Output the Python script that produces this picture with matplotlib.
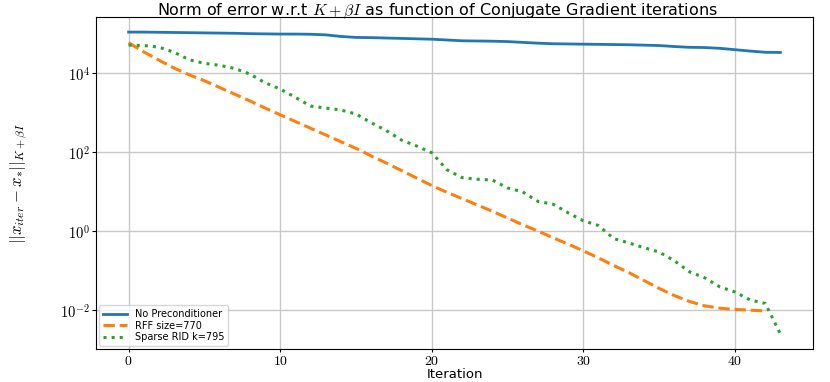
import numpy as np
import matplotlib
matplotlib.use('Agg')
import matplotlib.pyplot as plt
from matplotlib.ticker import FuncFormatter, FixedLocator, NullLocator

plt.rcParams['mathtext.fontset'] = 'cm'
plt.rcParams['font.family'] = 'DejaVu Sans'

# log10 of the error norm per CG iteration
no_precond_log = [5.03, 5.03, 5.025, 5.02, 5.015, 5.01, 5.005, 5.0, 4.99, 4.985,
                  4.98, 4.98, 4.975, 4.96, 4.92, 4.895, 4.89, 4.88, 4.87, 4.86,
                  4.85, 4.83, 4.81, 4.805, 4.80, 4.79, 4.77, 4.75, 4.735, 4.73,
                  4.725, 4.72, 4.715, 4.71, 4.70, 4.69, 4.665, 4.645, 4.64, 4.62,
                  4.585, 4.55, 4.52, 4.515]
rff_log = [4.76, 4.53, 4.32, 4.12, 3.95, 3.80, 3.63, 3.46, 3.29, 3.11,
           2.94, 2.77, 2.60, 2.43, 2.26, 2.09, 1.90, 1.72, 1.53, 1.34,
           1.15, 0.98, 0.82, 0.66, 0.50, 0.33, 0.16, 0.0, -0.17, -0.33,
           -0.50, -0.68, -0.87, -1.05, -1.25, -1.45, -1.63, -1.78, -1.89, -1.95,
           -1.98, -2.0, -2.02]
rid_log = [4.70, 4.69, 4.65, 4.52, 4.33, 4.24, 4.19, 4.11, 3.97, 3.75,
           3.59, 3.38, 3.16, 3.11, 3.06, 2.96, 2.74, 2.54, 2.30, 2.15,
           1.98, 1.55, 1.35, 1.31, 1.29, 1.09, 0.99, 0.75, 0.68, 0.46,
           0.26, 0.14, -0.19, -0.30, -0.42, -0.53, -0.75, -1.03, -1.18, -1.41,
           -1.54, -1.74, -1.83, -2.60]

no_precond = 10 ** np.array(no_precond_log)
rff = 10 ** np.array(rff_log)
rid = 10 ** np.array(rid_log)

fig = plt.figure(figsize=(8.3, 3.82), dpi=100)
ax = fig.add_axes([0.1157, 0.0864, 0.8638, 0.8691])

ax.plot(range(len(no_precond)), no_precond, color='tab:blue', lw=2, label='No Preconditioner')
ax.plot(range(len(rff)), rff, color='tab:orange', lw=2.2, ls='--', label='RFF size=770')
ax.plot(range(len(rid)), rid, color='tab:green', lw=2.2, ls=':', label='Sparse RID k=795')

ax.set_yscale('log')
ax.yaxis.set_major_locator(FixedLocator([1e-2, 1e0, 1e2, 1e4]))
ax.yaxis.set_minor_locator(NullLocator())
ax.yaxis.set_major_formatter(FuncFormatter(lambda v, p: r'$10^{%d}$' % round(np.log10(v))))
ax.xaxis.set_major_formatter(FuncFormatter(lambda v, p: r'$%d$' % v))
ax.tick_params(labelsize=10.5, length=3, pad=1.5)
ax.tick_params(axis='x', labelsize=10, length=2.5, pad=1)

ax.grid(True, color='#c8c8c8', lw=1)
ax.set_title(r'Norm of error w.r.t $K+\beta I$ as function of Conjugate Gradient iterations',
             fontsize=11.5, pad=0, x=0.476, y=1.046, va='top')
ax.set_xlabel('Iteration', fontsize=9.5, va='bottom')
ax.xaxis.set_label_coords(0.5, -0.0955)
ax.set_ylabel(r'$||x_{iter}-x_{*}||_{K+\beta I}$', fontsize=12)
ax.yaxis.set_label_coords(-0.092, 0.5)
ax.legend(loc='lower left', fontsize=7, borderpad=0.4, labelspacing=0.15,
          handlelength=2.5, borderaxespad=0.3)

fig.savefig('out.png')
